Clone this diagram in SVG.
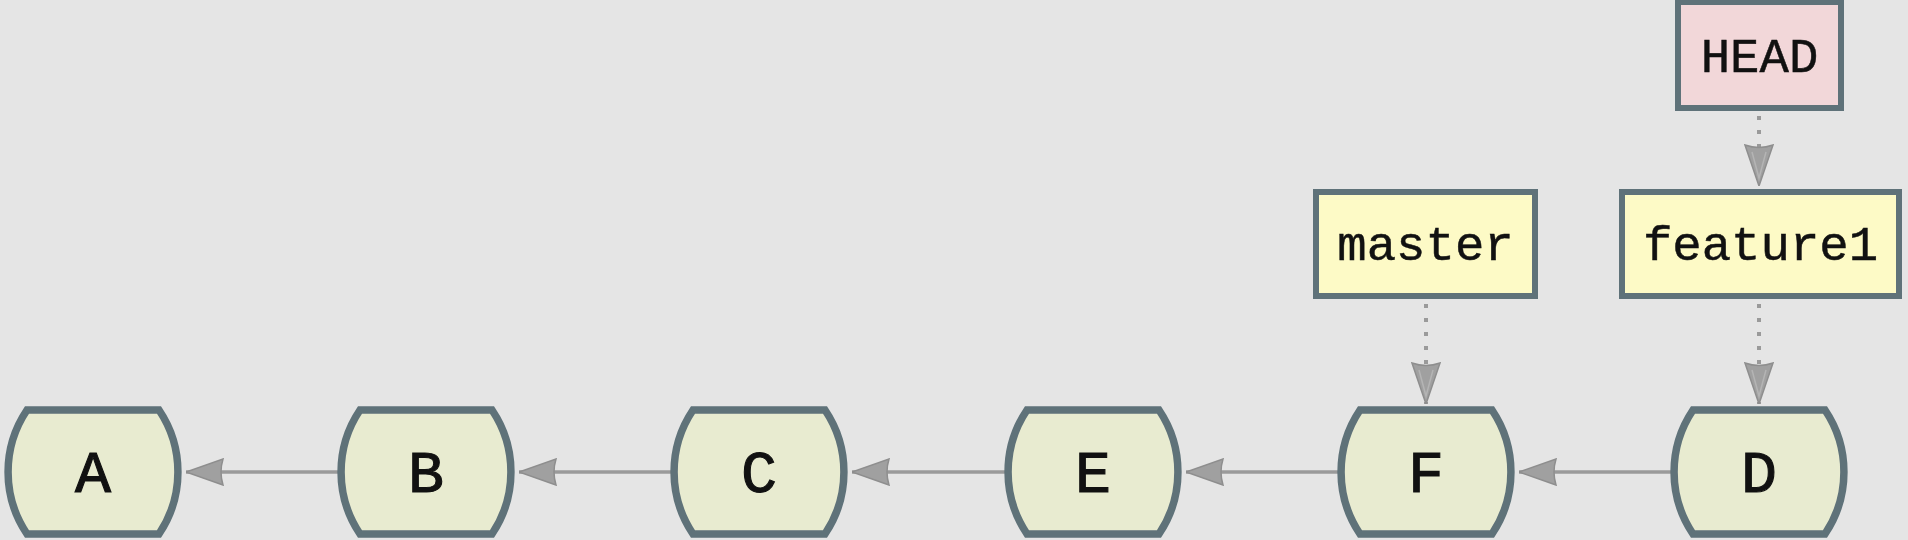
<svg xmlns="http://www.w3.org/2000/svg" width="1908" height="540" viewBox="0 0 1908 540">
<style>
.commit{fill:#e8ebd0;stroke:#5f7279;stroke-width:7.5;stroke-linejoin:miter}
.branch{fill:#fdfac6;stroke:#5f7279;stroke-width:6}
.head{fill:#f2d7d9;stroke:#5f7279;stroke-width:6}
.lbl{font-family:"Liberation Mono",monospace;fill:#111;stroke:#111;text-anchor:middle}
.big{font-size:60px;stroke-width:1.1}
.small{font-size:49px;stroke-width:0.5}
.link{stroke:#9a9a9a;stroke-width:3.5;fill:none}
.dot{stroke:#9a9a9a;stroke-width:4;fill:none;stroke-dasharray:4 10}
</style>
<defs>
<marker id="ah" viewBox="0 0 38 28" refX="38" refY="14" markerWidth="38" markerHeight="28" markerUnits="userSpaceOnUse" orient="auto">
<path d="M1,1 L38,14 L1,27 Q5,14 1,1 Z" fill="#a0a0a0" stroke="#8e8e8e" stroke-width="1.5"/>
</marker>
<marker id="av" viewBox="0 0 42 30" refX="42" refY="15" markerWidth="42" markerHeight="30" markerUnits="userSpaceOnUse" orient="auto">
<path d="M1,1 L42,15 L1,29 Q6,15 1,1 Z" fill="#a0a0a0" stroke="#8e8e8e" stroke-width="1.5"/>
<path d="M8,8 L34,15 L8,22" fill="none" stroke="#b4b4b4" stroke-width="1.5"/>
</marker>
<path id="cshape" d="M-66,-62 H66 A111,111 0 0 1 66,62 H-66 A111,111 0 0 1 -66,-62 Z"/>
</defs>
<rect width="1908" height="540" fill="#e5e5e5"/>
<g id="connectors">
<line class="link" x1="340" y1="472" x2="186" y2="472" marker-end="url(#ah)"/>
<line class="link" x1="673" y1="472" x2="519" y2="472" marker-end="url(#ah)"/>
<line class="link" x1="1006" y1="472" x2="852" y2="472" marker-end="url(#ah)"/>
<line class="link" x1="1340" y1="472" x2="1186" y2="472" marker-end="url(#ah)"/>
<line class="link" x1="1673" y1="472" x2="1519" y2="472" marker-end="url(#ah)"/>
<line class="dot" x1="1426" y1="304" x2="1426" y2="404" marker-end="url(#av)"/>
<line class="dot" x1="1759" y1="304" x2="1759" y2="404" marker-end="url(#av)"/>
<line class="dot" x1="1759" y1="116" x2="1759" y2="186" marker-end="url(#av)"/>
</g>
<g id="A"><use href="#cshape" class="commit" x="93" y="472"/><text class="lbl big" x="93" y="492">A</text></g>
<g id="B"><use href="#cshape" class="commit" x="426" y="472"/><text class="lbl big" x="426" y="492">B</text></g>
<g id="C"><use href="#cshape" class="commit" x="759" y="472"/><text class="lbl big" x="759" y="492">C</text></g>
<g id="E"><use href="#cshape" class="commit" x="1093" y="472"/><text class="lbl big" x="1093" y="492">E</text></g>
<g id="F"><use href="#cshape" class="commit" x="1426" y="472"/><text class="lbl big" x="1426" y="492">F</text></g>
<g id="D"><use href="#cshape" class="commit" x="1759" y="472"/><text class="lbl big" x="1759" y="492">D</text></g>
<g id="master"><rect class="branch" x="1316" y="192" width="219" height="104"/><text class="lbl small" x="1425.5" y="260">master</text></g>
<g id="feature1"><rect class="branch" x="1622" y="192" width="277" height="104"/><text class="lbl small" x="1760.5" y="260">feature1</text></g>
<g id="HEAD"><rect class="head" x="1678" y="2" width="163" height="106"/><text class="lbl small" x="1759.5" y="72">HEAD</text></g>
</svg>
